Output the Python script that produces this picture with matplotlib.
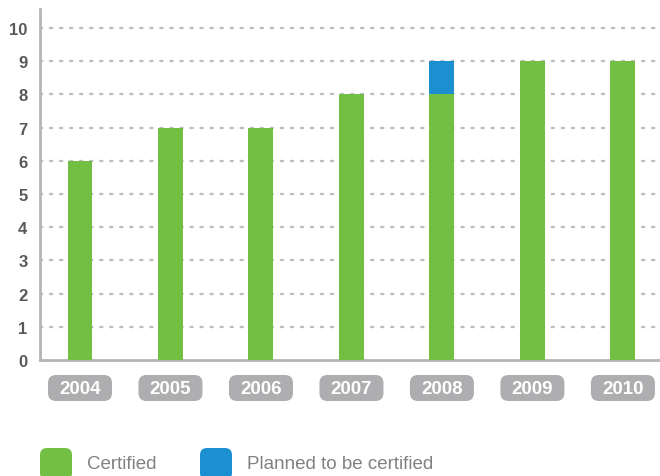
import matplotlib
matplotlib.use("Agg")
import matplotlib.pyplot as plt
from matplotlib.patches import FancyBboxPatch

# certified sites per year, plus those planned for certification
years = ["2004", "2005", "2006", "2007", "2008", "2009", "2010"]
certified = [6, 7, 7, 8, 8, 9, 9]
planned = [0, 0, 0, 0, 1, 0, 0]
yticks = list(range(0, 11))

GREEN = "#72bf44"
BLUE = "#1b8fd0"
AXIS_GRAY = "#b5b5b7"
GRID_GRAY = "#bdbdbf"
TEXT_GRAY = "#58595b"
LABEL_BOX = "#aeaeb0"

plt.rcParams["font.family"] = ["Liberation Sans", "DejaVu Sans"]

fig = plt.figure(figsize=(6.6, 4.77), dpi=100)
ax = fig.add_axes([40 / 660, 116 / 477, 620 / 660, 351 / 477])

x = list(range(len(years)))
ax.bar(x, certified, width=0.276, color=GREEN, zorder=3)
ax.bar(x, planned, width=0.276, bottom=certified, color=BLUE, zorder=3)

ax.set_xlim(-0.442, 6.41)
ax.set_ylim(0, 10.57)
ax.set_yticks(yticks)
ax.set_yticklabels([str(t) for t in yticks], fontsize=12,
                   fontweight="bold", color=TEXT_GRAY)
ax.tick_params(axis="y", length=0, pad=9)
ax.set_xticks([])

# short rounded dashes for the gridlines
for t in yticks[1:]:
    ax.axhline(t, color=GRID_GRAY, lw=1.7, ls=(0, (0.9, 3.35)),
               dash_capstyle="round", zorder=1)

for side in ["top", "right"]:
    ax.spines[side].set_visible(False)
for side in ["left", "bottom"]:
    ax.spines[side].set_color(AXIS_GRAY)
    ax.spines[side].set_linewidth(2)

# rounded year labels under each bar
fig.canvas.draw()
for i, yr in enumerate(years):
    cx, _ = ax.transData.transform((i, 0))
    cy = 477 - 389
    box = FancyBboxPatch((cx - 28, cy - 9), 56, 18,
                         boxstyle="round,pad=4,rounding_size=8",
                         transform=None, facecolor=LABEL_BOX,
                         edgecolor="none", clip_on=False)
    fig.patches.append(box)
    fig.text(cx / 660, (cy - 1) / 477, yr, ha="center", va="center",
             fontsize=13.5, fontweight="bold", color="white")

# legend swatches
legend_items = [("Certified", GREEN, 40), ("Planned to be certified", BLUE, 200)]
for label, col, px in legend_items:
    sw = FancyBboxPatch((px + 4, 0), 24, 24,
                        boxstyle="round,pad=4,rounding_size=7",
                        transform=None, facecolor=col, edgecolor="none")
    fig.patches.append(sw)
    fig.text((px + 47) / 660, 12 / 477, label, ha="left", va="center",
             fontsize=13.5, color="#808184")

fig.savefig("out.png", dpi=100)
